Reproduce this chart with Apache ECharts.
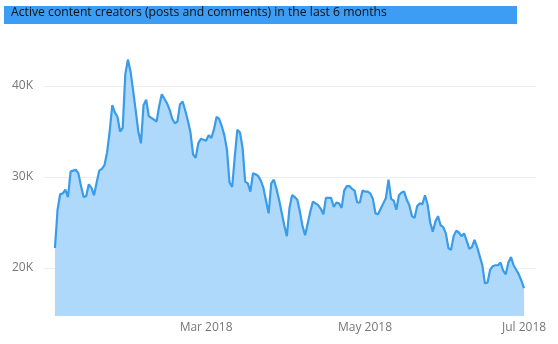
<!DOCTYPE html>
<html>
<head>
<meta charset="utf-8">
<script src="https://cdn.jsdelivr.net/npm/echarts@6/dist/echarts.min.js"></script>
<style>
html,body{margin:0;padding:0;background:#fff;}
#chart{width:558px;height:344px;}
</style>
</head>
<body>
<div id="chart"></div>
<script>
// ---- data ----
var titleText = 'Active content creators (posts and comments) in the last 6 months';
var startDate = '2018-01-02';
// daily active content creators, in thousands, Jan 2 .. Jul 1 2018
var values = [
22.2,26.4,28.1,28.2,28.6,27.8,30.6,30.7,30.8,30.4,
29.0,27.8,27.9,29.2,28.8,28.0,29.4,30.7,30.9,31.3,
32.7,35.0,37.9,37.1,36.6,35.0,35.4,41.3,42.9,41.6,
39.5,37.3,35.0,33.7,37.9,38.5,36.7,36.5,36.3,36.1,
37.8,39.1,38.6,38.1,37.4,36.4,35.9,36.1,38.0,38.3,
37.3,36.2,34.9,32.5,32.1,33.7,34.2,34.1,34.0,34.6,
34.3,35.2,36.6,36.4,35.6,34.6,33.0,29.4,28.9,32.2,
35.2,34.9,33.2,29.5,29.3,28.4,30.4,30.3,30.1,29.6,
28.8,27.4,26.0,29.3,29.7,28.7,27.5,26.1,24.7,23.5,
26.6,28.0,27.8,27.5,26.2,24.6,23.6,24.9,26.2,27.3,
27.1,26.9,26.5,25.9,27.7,27.7,27.7,26.7,27.2,27.1,
26.6,28.5,29.0,29.0,28.7,28.5,27.2,27.2,28.5,28.4,
28.4,28.2,27.6,26.0,25.9,26.5,27.1,27.7,29.7,27.6,
27.4,26.4,28.0,28.3,28.4,27.5,26.9,25.7,25.5,26.8,
27.1,27.0,28.0,27.0,25.0,24.0,25.1,25.7,24.7,24.5,
23.8,22.2,22.0,23.5,24.1,23.9,23.5,23.8,23.0,22.1,
22.3,23.1,22.3,21.3,20.3,18.3,18.4,19.8,20.2,20.3,
20.3,20.6,19.7,19.3,20.6,21.2,20.3,19.8,19.3,18.6,
17.8
];
var tickDates = ['2018-03-01','2018-05-01','2018-07-01'];
var tickLabels = ['Mar 2018','May 2018','Jul 2018'];

// ---- build ----
var DAY = 86400000;
var t0 = Date.parse(startDate + 'T00:00:00Z');
// x = day offset from start date
var seriesData = values.map(function (v, i) { return [i, v * 1000]; });
var tickDays = tickDates.map(function (d) { return Math.round((Date.parse(d + 'T00:00:00Z') - t0) / DAY); });
var lastDay = values.length - 1;

var chart = echarts.init(document.getElementById('chart'), null, {renderer: 'canvas'});
var fontFam = '"Segoe UI", "Open Sans", sans-serif';
chart.setOption({
  animation: false,
  backgroundColor: '#ffffff',
  graphic: [
    {type: 'rect', left: 4, top: 6, shape: {width: 513, height: 18}, style: {fill: '#3d9cf4'}},
    {type: 'text', left: 11, top: 7, style: {text: titleText, fill: '#111111', font: '12.2px "Segoe UI", "Open Sans", sans-serif'}}
  ],
  grid: {left: 44, right: 22, top: 40, bottom: 28, containLabel: false},
  xAxis: {
    type: 'value',
    min: -4.2,
    max: lastDay + 4.6,
    axisLine: {show: false},
    axisTick: {show: false},
    splitLine: {show: false},
    axisLabel: {
      customValues: tickDays,
      color: '#777777',
      fontSize: 12,
      fontFamily: fontFam,
      margin: 6,
      formatter: function (val) {
        var idx = tickDays.indexOf(Math.round(val));
        return idx >= 0 ? tickLabels[idx] : '';
      }
    }
  },
  yAxis: {
    type: 'value',
    min: 14725,
    max: 45055,
    splitNumber: 3,
    axisLine: {show: false},
    axisTick: {show: false},
    splitLine: {show: true, showMinLine: false, showMaxLine: false, lineStyle: {color: '#eeeeee', width: 1}},
    axisLabel: {
      showMinLabel: false,
      showMaxLabel: false,
      color: '#777777',
      fontSize: 12,
      fontFamily: fontFam,
      margin: 11,
      formatter: function (v) { return (v / 1000) + 'K'; }
    }
  },
  series: [{
    type: 'line',
    data: seriesData,
    symbol: 'none',
    smooth: false,
    lineStyle: {color: '#3a9ce9', width: 2.2},
    areaStyle: {color: '#aed9fa', opacity: 1}
  }]
});
</script>
</body>
</html>
